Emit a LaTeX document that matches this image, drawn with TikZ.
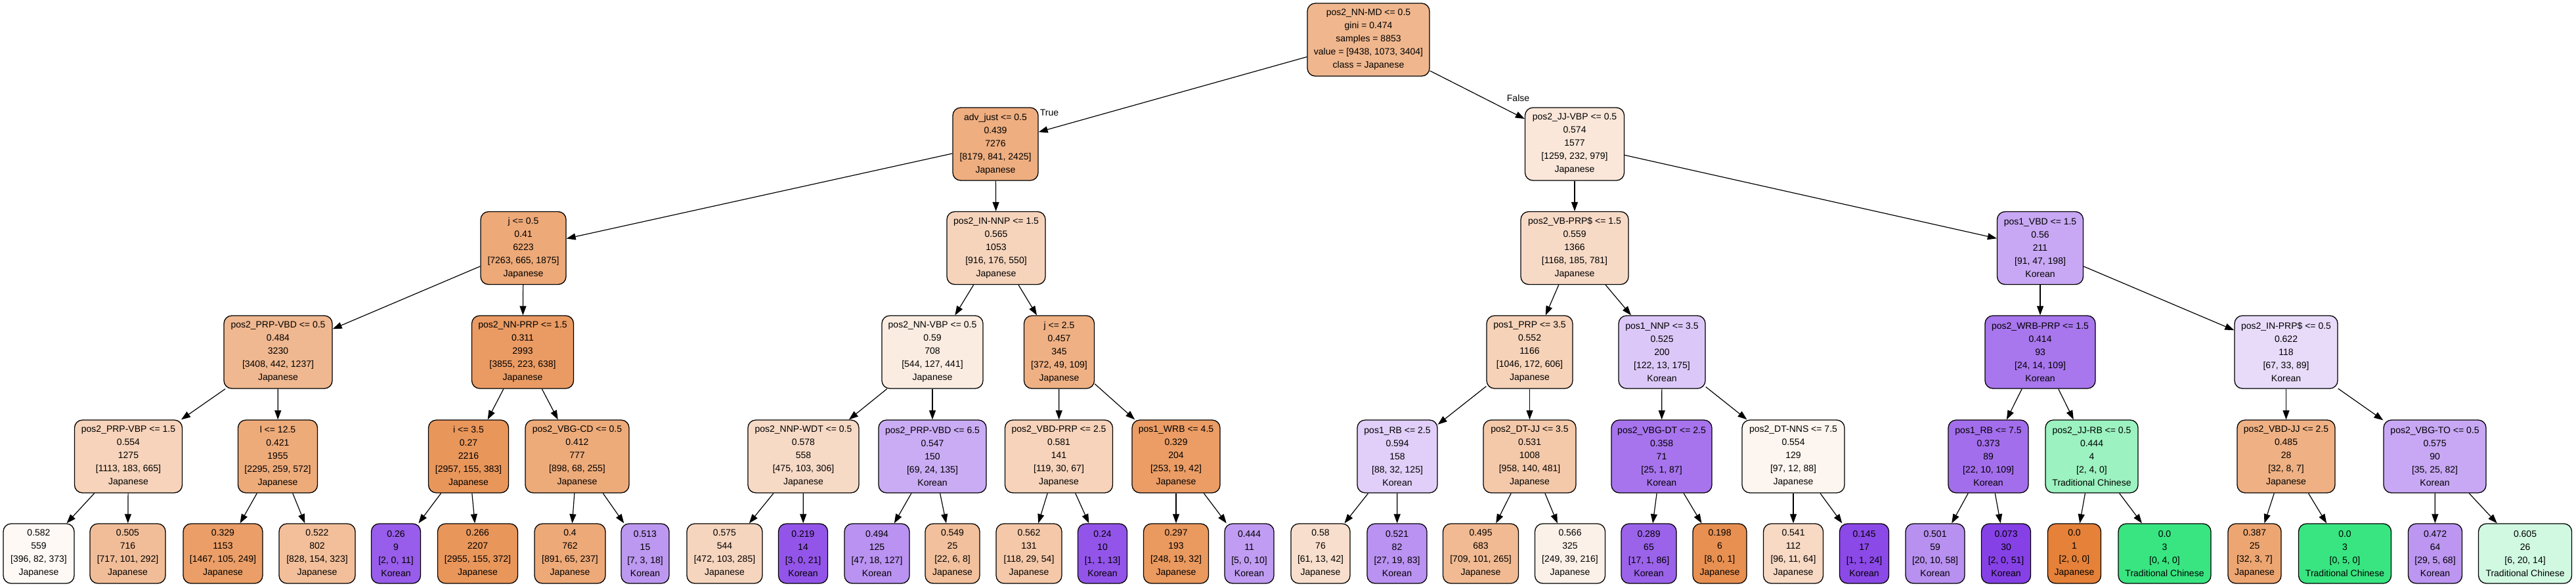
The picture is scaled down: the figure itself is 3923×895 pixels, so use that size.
\documentclass[tikz,border=0pt]{standalone}
\usepackage{fontspec}
\setmainfont{Liberation Sans}
\usetikzlibrary{arrows.meta}
\definecolor{jp}{RGB}{229,129,57}
\definecolor{tc}{RGB}{57,229,129}
\definecolor{ko}{RGB}{129,57,229}
\tikzset{
  tn/.style={draw=black, line width=1.3pt, rounded corners=12pt, align=center, inner sep=0pt,
    minimum height=111pt, font=\fontsize{14}{20}\selectfont},
  lf/.style={tn, minimum height=91pt},
  arr/.style={draw=black, line width=1.2pt, -{Triangle[length=14pt,width=10pt]}},
  elab/.style={font=\fontsize{14}{16}\selectfont, inner sep=0pt}
}
\begin{document}
\begin{tikzpicture}[x=1pt,y=-1pt]
\useasboundingbox (0,0) rectangle (3923,895);
% level 0
\node[tn, fill=jp!57!white, minimum width=186pt] (n0) at (2084,60.5) {pos2\_NN-MD <= 0.5\\gini = 0.474\\samples = 8853\\value = [9438, 1073, 3404]\\class = Japanese};
% level 1
\node[tn, fill=jp!64!white, minimum width=130pt] (n1) at (1516,219.5) {adv\_just <= 0.5\\0.439\\7276\\{[8179, 841, 2425]}\\Japanese};
\node[tn, fill=jp!19!white, minimum width=151pt] (n2) at (2398,219.5) {pos2\_JJ-VBP <= 0.5\\0.574\\1577\\{[1259, 232, 979]}\\Japanese};
% level 2
\node[tn, fill=jp!68!white, minimum width=130pt] (n3) at (797,378) {j <= 0.5\\0.41\\6223\\{[7263, 665, 1875]}\\Japanese};
\node[tn, fill=jp!34!white, minimum width=150pt] (n4) at (1517,378) {pos2\_IN-NNP <= 1.5\\0.565\\1053\\{[916, 176, 550]}\\Japanese};
\node[tn, fill=jp!29!white, minimum width=164pt] (n5) at (2398,378) {pos2\_VB-PRP\$ <= 1.5\\0.559\\1366\\{[1168, 185, 781]}\\Japanese};
\node[tn, fill=ko!44!white, minimum width=131pt] (n6) at (3107,378) {pos1\_VBD <= 1.5\\0.56\\211\\{[91, 47, 198]}\\Korean};
% level 3
\node[tn, fill=jp!56!white, minimum width=165pt] (n7) at (423.5,536.5) {pos2\_PRP-VBD <= 0.5\\0.484\\3230\\{[3408, 442, 1237]}\\Japanese};
\node[tn, fill=jp!79!white, minimum width=155pt] (n8) at (796,536.5) {pos2\_NN-PRP <= 1.5\\0.311\\2993\\{[3855, 223, 638]}\\Japanese};
\node[tn, fill=jp!15!white, minimum width=154pt] (n9) at (1420,536.5) {pos2\_NN-VBP <= 0.5\\0.59\\708\\{[544, 127, 441]}\\Japanese};
\node[tn, fill=jp!62!white, minimum width=107pt] (n10) at (1613,536.5) {j <= 2.5\\0.457\\345\\{[372, 49, 109]}\\Japanese};
\node[tn, fill=jp!36!white, minimum width=131pt] (n11) at (2329.5,536.5) {pos1\_PRP <= 3.5\\0.552\\1166\\{[1046, 172, 606]}\\Japanese};
\node[tn, fill=ko!28!white, minimum width=132pt] (n12) at (2531,536.5) {pos1\_NNP <= 3.5\\0.525\\200\\{[122, 13, 175]}\\Korean};
\node[tn, fill=ko!69!white, minimum width=168pt] (n13) at (3107,536.5) {pos2\_WRB-PRP <= 1.5\\0.414\\93\\{[24, 14, 109]}\\Korean};
\node[tn, fill=ko!18!white, minimum width=157pt] (n14) at (3481.5,536.5) {pos2\_IN-PRP\$ <= 0.5\\0.622\\118\\{[67, 33, 89]}\\Korean};
% level 4
\node[tn, fill=jp!35!white, minimum width=164pt] (n15) at (195.5,695.5) {pos2\_PRP-VBP <= 1.5\\0.554\\1275\\{[1113, 183, 665]}\\Japanese};
\node[tn, fill=jp!67!white, minimum width=121pt] (n16) at (423,695.5) {l <= 12.5\\0.421\\1955\\{[2295, 259, 572]}\\Japanese};
\node[tn, fill=jp!83!white, minimum width=122pt] (n17) at (713.5,695.5) {i <= 3.5\\0.27\\2216\\{[2957, 155, 383]}\\Japanese};
\node[tn, fill=jp!67!white, minimum width=158pt] (n18) at (879,695.5) {pos2\_VBG-CD <= 0.5\\0.412\\777\\{[898, 68, 255]}\\Japanese};
\node[tn, fill=jp!29!white, minimum width=169pt] (n19) at (1223.5,695.5) {pos2\_NNP-WDT <= 0.5\\0.578\\558\\{[475, 103, 306]}\\Japanese};
\node[tn, fill=ko!42!white, minimum width=164pt] (n20) at (1420,695.5) {pos2\_PRP-VBD <= 6.5\\0.547\\150\\{[69, 24, 135]}\\Korean};
\node[tn, fill=jp!35!white, minimum width=164pt] (n21) at (1612.5,695.5) {pos2\_VBD-PRP <= 2.5\\0.581\\141\\{[119, 30, 67]}\\Japanese};
\node[tn, fill=jp!78!white, minimum width=134pt] (n22) at (1791,695.5) {pos1\_WRB <= 4.5\\0.329\\204\\{[253, 19, 42]}\\Japanese};
\node[tn, fill=ko!24!white, minimum width=122pt] (n23) at (2128,695.5) {pos1\_RB <= 2.5\\0.594\\158\\{[88, 32, 125]}\\Korean};
\node[tn, fill=jp!43!white, minimum width=141pt] (n24) at (2329.5,695.5) {pos2\_DT-JJ <= 3.5\\0.531\\1008\\{[958, 140, 481]}\\Japanese};
\node[tn, fill=ko!70!white, minimum width=153pt] (n25) at (2530.5,695.5) {pos2\_VBG-DT <= 2.5\\0.358\\71\\{[25, 1, 87]}\\Korean};
\node[tn, fill=jp!8!white, minimum width=156pt] (n26) at (2731,695.5) {pos2\_DT-NNS <= 7.5\\0.554\\129\\{[97, 12, 88]}\\Japanese};
\node[tn, fill=ko!73!white, minimum width=122pt] (n27) at (3028,695.5) {pos1\_RB <= 7.5\\0.373\\89\\{[22, 10, 109]}\\Korean};
\node[tn, fill=tc!50!white, minimum width=141pt] (n28) at (3185.5,695.5) {pos2\_JJ-RB <= 0.5\\0.444\\4\\{[2, 4, 0]}\\Traditional Chinese};
\node[tn, fill=jp!62!white, minimum width=149pt] (n29) at (3481.5,695.5) {pos2\_VBD-JJ <= 2.5\\0.485\\28\\{[32, 8, 7]}\\Japanese};
\node[tn, fill=ko!44!white, minimum width=156pt] (n30) at (3708,695.5) {pos2\_VBG-TO <= 0.5\\0.575\\90\\{[35, 25, 82]}\\Korean};
% level 5 leaves
\node[lf, fill=jp!5!white, minimum width=108pt] (l1) at (59,843.5) {0.582\\559\\{[396, 82, 373]}\\Japanese};
\node[lf, fill=jp!52!white, minimum width=115pt] (l2) at (194.5,843.5) {0.505\\716\\{[717, 101, 292]}\\Japanese};
\node[lf, fill=jp!77!white, minimum width=121pt] (l3) at (339.5,843.5) {0.329\\1153\\{[1467, 105, 249]}\\Japanese};
\node[lf, fill=jp!51!white, minimum width=116pt] (l4) at (483,843.5) {0.522\\802\\{[828, 154, 323]}\\Japanese};
\node[lf, fill=ko!82!white, minimum width=75pt] (l5) at (603,843.5) {0.26\\9\\{[2, 0, 11]}\\Korean};
\node[lf, fill=jp!83!white, minimum width=122pt] (l6) at (727.5,843.5) {0.266\\2207\\{[2955, 155, 372]}\\Japanese};
\node[lf, fill=jp!68!white, minimum width=108pt] (l7) at (868,843.5) {0.4\\762\\{[891, 65, 237]}\\Japanese};
\node[lf, fill=ko!52!white, minimum width=73pt] (l8) at (982.5,843.5) {0.513\\15\\{[7, 3, 18]}\\Korean};
\node[lf, fill=jp!33!white, minimum width=115pt] (l9) at (1103.5,843.5) {0.575\\544\\{[472, 103, 285]}\\Japanese};
\node[lf, fill=ko!86!white, minimum width=75pt] (l10) at (1223,843.5) {0.219\\14\\{[3, 0, 21]}\\Korean};
\node[lf, fill=ko!55!white, minimum width=99pt] (l11) at (1335.5,843.5) {0.494\\125\\{[47, 18, 127]}\\Korean};
\node[lf, fill=jp!50!white, minimum width=83pt] (l12) at (1450.5,843.5) {0.549\\25\\{[22, 6, 8]}\\Japanese};
\node[lf, fill=jp!44!white, minimum width=100pt] (l13) at (1567,843.5) {0.562\\131\\{[118, 29, 54]}\\Japanese};
\node[lf, fill=ko!86!white, minimum width=75pt] (l14) at (1679,843.5) {0.24\\10\\{[1, 1, 13]}\\Korean};
\node[lf, fill=jp!81!white, minimum width=99pt] (l15) at (1791,843.5) {0.297\\193\\{[248, 19, 32]}\\Japanese};
\node[lf, fill=ko!50!white, minimum width=75pt] (l16) at (1902.5,843.5) {0.444\\11\\{[5, 0, 10]}\\Korean};
\node[lf, fill=jp!26!white, minimum width=90pt] (l17) at (2011,843.5) {0.58\\76\\{[61, 13, 42]}\\Japanese};
\node[lf, fill=ko!55!white, minimum width=91pt] (l18) at (2127.5,843.5) {0.521\\82\\{[27, 19, 83]}\\Korean};
\node[lf, fill=jp!55!white, minimum width=115pt] (l19) at (2255,843.5) {0.495\\683\\{[709, 101, 265]}\\Japanese};
\node[lf, fill=jp!11!white, minimum width=107pt] (l20) at (2391,843.5) {0.566\\325\\{[249, 39, 216]}\\Japanese};
\node[lf, fill=ko!79!white, minimum width=84pt] (l21) at (2511,843.5) {0.289\\65\\{[17, 1, 86]}\\Korean};
\node[lf, fill=jp!88!white, minimum width=82pt] (l22) at (2619,843.5) {0.198\\6\\{[8, 0, 1]}\\Japanese};
\node[lf, fill=jp!30!white, minimum width=91pt] (l23) at (2731,843.5) {0.541\\112\\{[96, 11, 64]}\\Japanese};
\node[lf, fill=ko!92!white, minimum width=75pt] (l24) at (2839,843.5) {0.145\\17\\{[1, 1, 24]}\\Korean};
\node[lf, fill=ko!56!white, minimum width=90pt] (l25) at (2947,843.5) {0.501\\59\\{[20, 10, 58]}\\Korean};
\node[lf, fill=ko!96!white, minimum width=75pt] (l26) at (3055,843.5) {0.073\\30\\{[2, 0, 51]}\\Korean};
\node[lf, fill=jp, minimum width=81pt] (l27) at (3159,843.5) {0.0\\1\\{[2, 0, 0]}\\Japanese};
\node[lf, fill=tc, minimum width=141pt] (l28) at (3296.5,843.5) {0.0\\3\\{[0, 4, 0]}\\Traditional Chinese};
\node[lf, fill=jp!71!white, minimum width=81pt] (l29) at (3433.5,843.5) {0.387\\25\\{[32, 3, 7]}\\Japanese};
\node[lf, fill=tc, minimum width=141pt] (l30) at (3571,843.5) {0.0\\3\\{[0, 5, 0]}\\Traditional Chinese};
\node[lf, fill=ko!53!white, minimum width=82pt] (l31) at (3708.5,843.5) {0.472\\64\\{[29, 5, 68]}\\Korean};
\node[lf, fill=tc!23!white, minimum width=142pt] (l32) at (3845.5,843.5) {0.605\\26\\{[6, 20, 14]}\\Traditional Chinese};
% edges
\draw[arr] (n0) -- (n1);
\draw[arr] (n0) -- (n2);
\draw[arr] (n1) -- (n3);
\draw[arr] (n1) -- (n4);
\draw[arr] (n2) -- (n5);
\draw[arr] (n2) -- (n6);
\draw[arr] (n3) -- (n7);
\draw[arr] (n3) -- (n8);
\draw[arr] (n4) -- (n9);
\draw[arr] (n4) -- (n10);
\draw[arr] (n5) -- (n11);
\draw[arr] (n5) -- (n12);
\draw[arr] (n6) -- (n13);
\draw[arr] (n6) -- (n14);
\draw[arr] (n7) -- (n15);
\draw[arr] (n7) -- (n16);
\draw[arr] (n8) -- (n17);
\draw[arr] (n8) -- (n18);
\draw[arr] (n9) -- (n19);
\draw[arr] (n9) -- (n20);
\draw[arr] (n10) -- (n21);
\draw[arr] (n10) -- (n22);
\draw[arr] (n11) -- (n23);
\draw[arr] (n11) -- (n24);
\draw[arr] (n12) -- (n25);
\draw[arr] (n12) -- (n26);
\draw[arr] (n13) -- (n27);
\draw[arr] (n13) -- (n28);
\draw[arr] (n14) -- (n29);
\draw[arr] (n14) -- (n30);
\draw[arr] (n15) -- (l1);
\draw[arr] (n15) -- (l2);
\draw[arr] (n16) -- (l3);
\draw[arr] (n16) -- (l4);
\draw[arr] (n17) -- (l5);
\draw[arr] (n17) -- (l6);
\draw[arr] (n18) -- (l7);
\draw[arr] (n18) -- (l8);
\draw[arr] (n19) -- (l9);
\draw[arr] (n19) -- (l10);
\draw[arr] (n20) -- (l11);
\draw[arr] (n20) -- (l12);
\draw[arr] (n21) -- (l13);
\draw[arr] (n21) -- (l14);
\draw[arr] (n22) -- (l15);
\draw[arr] (n22) -- (l16);
\draw[arr] (n23) -- (l17);
\draw[arr] (n23) -- (l18);
\draw[arr] (n24) -- (l19);
\draw[arr] (n24) -- (l20);
\draw[arr] (n25) -- (l21);
\draw[arr] (n25) -- (l22);
\draw[arr] (n26) -- (l23);
\draw[arr] (n26) -- (l24);
\draw[arr] (n27) -- (l25);
\draw[arr] (n27) -- (l26);
\draw[arr] (n28) -- (l27);
\draw[arr] (n28) -- (l28);
\draw[arr] (n29) -- (l29);
\draw[arr] (n29) -- (l30);
\draw[arr] (n30) -- (l31);
\draw[arr] (n30) -- (l32);
% edge labels
\node[elab] (tlab) at (1598,172) {True};
\node[elab] (flab) at (2312,149) {False};
\end{tikzpicture}
\end{document}
